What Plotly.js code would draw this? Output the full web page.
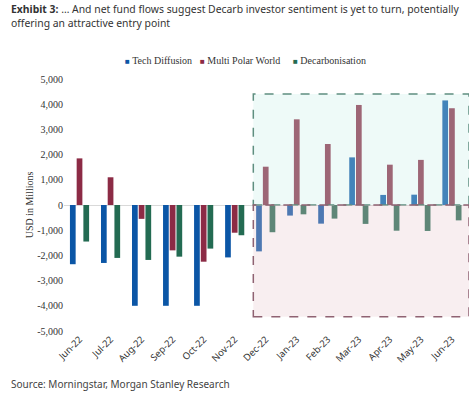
<!DOCTYPE html>
<html>
<head>
<meta charset="utf-8">
<script src="https://cdn.plot.ly/plotly-3.0.1.min.js"></script>
<style>html,body{margin:0;padding:0;background:#fff;}#chart{width:474px;height:393px;}</style>
</head>
<body>
<div id="chart"></div>
<script>
var months = ['Jun-22','Jul-22','Aug-22','Sep-22','Oct-22','Nov-22','Dec-22','Jan-23','Feb-23','Mar-23','Apr-23','May-23','Jun-23'];
var seriesNames = ['Tech Diffusion','Multi Polar World','Decarbonisation'];
var techDiffusion = [-2350,-2300,-4000,-4000,-4000,-2080,-1840,-420,-740,1890,400,410,4150];
var multiPolarWorld = [1850,1100,-550,-1800,-2250,-1100,1520,3400,2420,3970,1600,1790,3840];
var decarbonisation = [-1450,-2100,-2180,-2050,-1730,-1200,-1080,-370,-540,-750,-1020,-1030,-610];
var yTicks = [-5000,-4000,-3000,-2000,-1000,0,1000,2000,3000,4000,5000];
var yTickLabels = ['-5,000','-4,000','-3,000','-2,000','-1,000','0','1,000','2,000','3,000','4,000','5,000'];

var serif = 'Liberation Serif, Times New Roman, serif';
var sans = 'Noto Sans, Open Sans, sans-serif';
var colors = ['#0b56a6','#8c2b45','#236b52'];

var idx = months.map(function(_, i){ return i; });
var values = [techDiffusion, multiPolarWorld, decarbonisation];

var data = values.map(function(v, i){
  return {type:'bar', name: seriesNames[i], x: idx, y: v, marker:{color: colors[i]}, showlegend:false};
});

var legendX = [0.145, 0.33, 0.56];
var legendAnn = seriesNames.map(function(n, i){
  return {xref:'paper', yref:'paper', x: legendX[i], y:1, yshift:19, xanchor:'left', yanchor:'middle', showarrow:false,
    text:'<span style="color:'+colors[i]+';font-size:8px">■</span> '+n,
    font:{family:serif, size:10, color:'#333'}};
});

var layout = {
  width: 474, height: 393,
  margin: {l:64, r:5, t:79, b:62},
  paper_bgcolor:'#fff', plot_bgcolor:'#fff',
  barmode:'group', bargap:0.35, bargroupgap:0.15,
  showlegend:false,
  xaxis:{
    type:'linear', range:[-0.5, 12.55], tickmode:'array', tickvals: idx, ticktext: months,
    tickangle:-45, showgrid:false, zeroline:false, showline:false, ticks:'', automargin:false,
    tickfont:{family:sans, size:9.5, color:'#333'}, fixedrange:true
  },
  yaxis:{
    range:[-5000,5000], tickmode:'array', tickvals:yTicks, ticktext:yTickLabels,
    showgrid:false, zeroline:true, zerolinecolor:'#d9d9d9', zerolinewidth:1,
    showline:false, ticks:'', automargin:false,
    tickfont:{family:serif, size:10, color:'#333'},
    title:{text:'USD in Millions', font:{family:serif, size:10, color:'#333'}}
  },
  shapes:[
    {type:'rect', xref:'x', yref:'y', x0:5.6, x1:12.55, y0:0, y1:4400, layer:'above',
     fillcolor:'rgba(200,238,232,0.3)', line:{color:'#5f8f80', width:1.5, dash:'dash'}},
    {type:'rect', xref:'x', yref:'y', x0:5.6, x1:12.55, y0:-4430, y1:0, layer:'above',
     fillcolor:'rgba(232,198,205,0.3)', line:{color:'#8f6272', width:1.5, dash:'dash'}}
  ],
  annotations: legendAnn.concat([
    {xref:'paper', yref:'paper', x:-0.135, y:1.0, yanchor:'top', xanchor:'left', align:'left', showarrow:false,
     yshift:79,
     text:'<b>Exhibit 3:</b> … And net fund flows suggest Decarb investor sentiment is yet to turn, potentially<br>offering an attractive entry point',
     font:{family:sans, size:10.4, color:'#333'}},
    {xref:'paper', yref:'paper', x:-0.135, y:0, yanchor:'bottom', xanchor:'left', showarrow:false,
     yshift:-62,
     text:'Source: Morningstar, Morgan Stanley Research',
     font:{family:sans, size:10, color:'#444'}}
  ])
};

Plotly.newPlot('chart', data, layout, {displayModeBar:false, staticPlot:true});
</script>
</body>
</html>
